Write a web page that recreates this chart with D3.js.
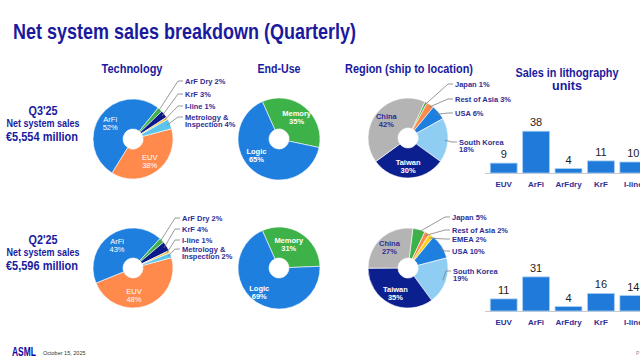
<!DOCTYPE html>
<html><head><meta charset="utf-8">
<script src="https://cdn.jsdelivr.net/npm/d3@7"></script>
<style>html,body{margin:0;padding:0;background:#fff;}svg{display:block;font-family:"Liberation Sans",Arial,sans-serif;}</style>
</head><body>
<svg id="c" width="640" height="358"></svg>
<script>
// ---- data ----
const quarters = ["Q3'25", "Q2'25"];
const netSales = ["€5,554 million", "€5,596 million"];
const techCategories = ["EUV", "ArFi", "ArF Dry", "KrF", "I-line", "Metrology & Inspection"];
const techQ3 = [38, 52, 2, 3, 1, 4];
const techQ2 = [48, 43, 2, 4, 1, 2];
const endUseCategories = ["Memory", "Logic"];
const endUseQ3 = [35, 65];
const endUseQ2 = [31, 69];
const regionCategoriesQ3 = ["Japan", "Rest of Asia", "USA", "South Korea", "Taiwan", "China"];
const regionQ3 = [1, 3, 6, 18, 30, 42];
const regionCategoriesQ2 = ["Japan", "Rest of Asia", "EMEA", "USA", "South Korea", "Taiwan", "China"];
const regionQ2 = [5, 2, 2, 10, 19, 35, 27];
const unitCategories = ["EUV", "ArFi", "ArFdry", "KrF", "I-line"];
const unitsQ3 = [9, 38, 4, 11, 10];
const unitsQ2 = [11, 31, 4, 16, 14];

// ---- styles ----
const NAVY = "#1a1a9e", LBL = "#2e2e96";
const techColor = {"EUV":"#ff8a4c","ArFi":"#1f7fdf","ArF Dry":"#3db249","KrF":"#0b1a8a","I-line":"#f2c34a","Metrology & Inspection":"#5cc3ea"};
const regionColor = {"Japan":"#3db249","Rest of Asia":"#ff8a4c","EMEA":"#f7d51d","USA":"#1f7fdf","South Korea":"#8fcdf3","Taiwan":"#0b1f8f","China":"#b4b4b4"};
const endColor = {"Memory":"#3db249","Logic":"#1f7fdf"};
const deg = Math.PI/180;

const svg = d3.select("#c");

function fitText(x, y, s, size, len, anchor, fill){
  return svg.append("text").attr("x",x).attr("y",y).attr("text-anchor",anchor||"start")
    .attr("fill",fill||NAVY).attr("font-size",size).attr("font-weight","bold")
    .attr("textLength",len).attr("lengthAdjust","spacingAndGlyphs").text(s);
}

fitText(13,39,"Net system sales breakdown (Quarterly)",22,343);

fitText(132,73,"Technology",12,61,"middle");
fitText(279,73,"End-Use",12,43,"middle");
fitText(409,73,"Region (ship to location)",12,128,"middle");
fitText(567,77,"Sales in lithography",12,103,"middle");
fitText(567,90,"units",12,30,"middle");

// left quarter labels
const rowY = [138, 267];
quarters.forEach((q,i)=>{
  fitText(43,rowY[i]-23,q,12.5,29,"middle");
  fitText(43,rowY[i]-11,"Net system sales",10,73,"middle");
  fitText(42,rowY[i]+3,netSales[i],12,72,"middle");
});

function donut(cx, cy, r, cats, vals, colors, start, inner, outer){
  const g = svg.append("g").attr("transform",`translate(${cx},${cy})`);
  const pie = d3.pie().sort(null).startAngle(start*deg).endAngle(start*deg+2*Math.PI);
  const arcs = pie(vals).map((a,i)=>Object.assign(a,{c:cats[i]}));
  const arc = d3.arc().innerRadius(10).outerRadius(r);
  g.selectAll("path").data(arcs).join("path").attr("d",arc)
    .attr("fill",d=>colors[d.c]).attr("stroke","#fff").attr("stroke-width",0.6);
  const la = d3.arc().innerRadius(28).outerRadius(28);
  arcs.forEach(a=>{
    const ii = inner[a.c];
    if(ii){
      const [x,y] = la.centroid(a);
      const t = g.append("text").attr("text-anchor","middle").attr("font-size",7.5)
        .attr("font-weight",ii.bold?"bold":"normal").attr("fill",ii.fill);
      t.append("tspan").attr("x",x+(ii.dx||0)).attr("y",y-1+(ii.dy||0)).text(a.c);
      t.append("tspan").attr("x",x+(ii.dx||0)).attr("y",y+7+(ii.dy||0)).text(a.data+"%");
    }
    const oo = outer[a.c];
    if(oo){
      const mid = (a.startAngle+a.endAngle)/2;
      const sx = Math.sin(mid)*(r-3), sy = -Math.cos(mid)*(r-3);
      const ly = oo.dy;
      g.append("polyline").attr("points",`${sx},${sy} ${oo.dx-7},${ly} ${oo.dx-2},${ly}`)
        .attr("fill","none").attr("stroke","#7f7f7f").attr("stroke-width",0.8);
      const t = g.append("text").attr("font-size",7.5).attr("font-weight","bold").attr("fill",LBL);
      const lines = oo.lines || [a.c+" "+a.data+"%"];
      lines.forEach((s,k)=>t.append("tspan").attr("x",oo.dx).attr("y",ly+2.6+k*7.5).text(k===lines.length-1 && oo.lines ? s.replace("#",a.data) : s));
    }
  });
}

// Technology
donut(133,139,40,techCategories,techQ3,techColor,75,
  {"EUV":{fill:"#fff"},"ArFi":{fill:"#fff"}},
  {"ArF Dry":{dx:52,dy:-58},"KrF":{dx:52,dy:-45},"I-line":{dx:52,dy:-33},
   "Metrology & Inspection":{dx:52,dy:-22,lines:["Metrology &","Inspection #%"]}});
donut(133,268,40,techCategories,techQ2,techColor,75,
  {"EUV":{fill:"#fff",dx:-8},"ArFi":{fill:"#fff"}},
  {"ArF Dry":{dx:49,dy:-50},"KrF":{dx:49,dy:-39},"I-line":{dx:49,dy:-28},
   "Metrology & Inspection":{dx:49,dy:-19,lines:["Metrology &","Inspection #%"]}});
// End-use
donut(279,139,41,endUseCategories,endUseQ3,endColor,-24,
  {"Memory":{fill:"#fff",bold:true},"Logic":{fill:"#fff",bold:true,dx:-5,dy:-6}},{});
donut(279,268,41,endUseCategories,endUseQ2,endColor,-24,
  {"Memory":{fill:"#fff",bold:true,dx:-5},"Logic":{fill:"#fff",bold:true,dx:-5}},{});
// Region
donut(408,138,40,regionCategoriesQ3,regionQ3,regionColor,25,
  {"China":{fill:LBL,bold:true},"Taiwan":{fill:"#fff",bold:true}},
  {"Japan":{dx:47,dy:-54},"Rest of Asia":{dx:47,dy:-39},"USA":{dx:47,dy:-25},
   "South Korea":{dx:51,dy:4,lines:["South Korea","#%"]}});
donut(408,268,40,regionCategoriesQ2,regionQ2,regionColor,7,
  {"China":{fill:LBL,bold:true},"Taiwan":{fill:"#fff",bold:true}},
  {"Japan":{dx:44,dy:-51},"Rest of Asia":{dx:44,dy:-38},"EMEA":{dx:44,dy:-29},"USA":{dx:44,dy:-17},
   "South Korea":{dx:45,dy:3,lines:["South Korea","#%"]}});

// Bars
const x = d3.scaleBand().domain(unitCategories).range([487,650]).paddingInner(0.17).paddingOuter(0.1);
const h = d3.scaleLinear().domain([0,40]).range([0,44]);
function bars(base, vals){
  const g = svg.append("g");
  g.append("line").attr("x1",485).attr("x2",640).attr("y1",base+0.5).attr("y2",base+0.5).attr("stroke","#c8c8c8");
  g.selectAll("rect").data(vals).join("rect")
    .attr("x",(d,i)=>x(unitCategories[i])).attr("width",x.bandwidth())
    .attr("y",d=>base-h(d)).attr("height",d=>h(d))
    .attr("fill","#1f7ad9").attr("stroke","#a9d0f3").attr("stroke-width",0.8);
  g.selectAll("text.v").data(vals).join("text").attr("class","v")
    .attr("x",(d,i)=>x(unitCategories[i])+x.bandwidth()/2).attr("y",d=>base-h(d)-5)
    .attr("text-anchor","middle").attr("font-size",11).attr("fill","#222").text(d=>d);
  g.selectAll("text.c").data(unitCategories).join("text").attr("class","c")
    .attr("x",d=>x(d)+x.bandwidth()/2).attr("y",base+14)
    .attr("text-anchor","middle").attr("font-size",8).attr("font-weight","bold").attr("fill",LBL).text(d=>d);
}
bars(173, unitsQ3);
bars(311, unitsQ2);

// footer
fitText(12,356,"ASML",12,24,"start","#10069f");
svg.append("text").attr("x",43).attr("y",355).attr("font-size",5.5).attr("fill","#333").text("October 15, 2025");
svg.append("text").attr("x",636).attr("y",355).attr("font-size",5).attr("fill","#888").text("P");
</script>
</body></html>
